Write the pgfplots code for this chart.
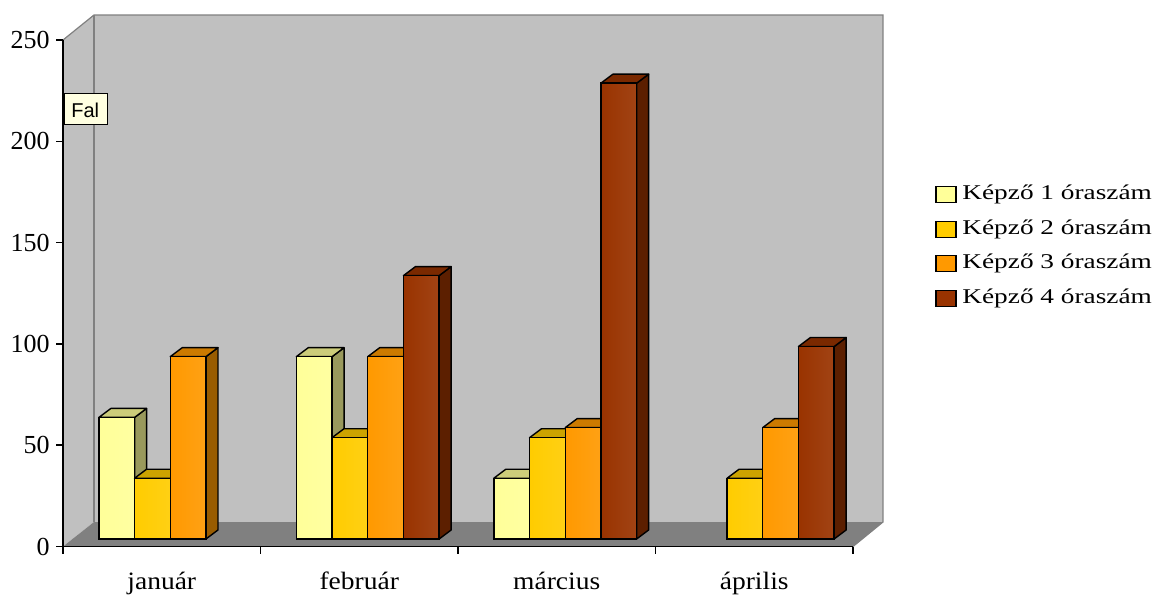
\documentclass[border=0pt]{standalone}
\usepackage{pgfplots}
\pgfplotsset{compat=1.18}
\usepackage{pgfplotstable}
\usepackage{fontspec}
\setmainfont{Liberation Serif}
\newfontfamily\tipfont{Liberation Sans}

% face colours: front / top / side
\definecolor{kA}{HTML}{FFFF99}\definecolor{kAtop}{HTML}{CCCC7A}\definecolor{kAside}{HTML}{99995C}
\definecolor{kB}{HTML}{FFCC00}\definecolor{kBtop}{HTML}{CCA300}\definecolor{kBside}{HTML}{997A00}
\definecolor{kC}{HTML}{FF9900}\definecolor{kCtop}{HTML}{CC7A00}\definecolor{kCside}{HTML}{995C00}
\definecolor{kD}{HTML}{993300}\definecolor{kDtop}{HTML}{7A2900}\definecolor{kDside}{HTML}{5C1F00}
\definecolor{wall}{HTML}{C0C0C0}
\definecolor{floor}{HTML}{808080}
\definecolor{tip}{HTML}{FFFFE1}

\pgfplotstableread{
x k1 k2 k3 k4
0 60 30 90 0
1 90 50 90 130
2 30 50 55 225
3 0 30 55 95
}\hours

\pgfdeclareplotmark{void}{}

% one 3-D column per data point (1 px = 0.5 pt, 1 unit = 1.013 pt)
% #1 column, #2 front, #3 top, #4 side, #5 x offset of the column centre (pt)
\pgfplotsset{
  box3d/.style n args={5}{
    only marks, mark=void, scatter,
    visualization depends on={\thisrow{#1} \as \bxV},
    scatter/@pre marker code/.code={%
      \pgfmathsetmacro\bxH{\bxV*1.013}%
      \ifdim\bxH pt>0.1pt
        \pgfmathsetmacro\bxL{#5-8.925}%
        \pgfmathsetmacro\bxR{#5+8.925}%
        \pgfmathsetmacro\bxRR{#5+14.925}%
        \pgfmathsetmacro\bxLL{#5-2.925}%
        \pgfmathsetmacro\bxB{3.75-\bxH}%
        \pgfmathsetmacro\bxBB{8.25-\bxH}%
        \filldraw[fill=#4, draw=black, line width=0.7pt, line join=round]
          (\bxR pt,\bxB pt) -- (\bxR pt,3.75pt) -- (\bxRR pt,8.25pt) -- (\bxRR pt,\bxBB pt) -- cycle;
        \filldraw[fill=#3, draw=black, line width=0.7pt, line join=round]
          (\bxL pt,3.75pt) -- (\bxLL pt,8.25pt) -- (\bxRR pt,8.25pt) -- (\bxR pt,3.75pt) -- cycle;
        \draw[left color=#2, right color=#2!92!white, draw=black, line width=0.7pt]
          (\bxL pt,\bxB pt) rectangle (\bxR pt,3.75pt);
      \fi
    },
    scatter/@post marker code/.code={},
    legend image code/.code={%
      \draw[black, fill=#2, line width=0.6pt] (0pt,-4pt) rectangle (10pt,4pt);
      \path (13pt,0pt);},
  },
}

\begin{document}
\begin{tikzpicture}
\useasboundingbox (0,0) rectangle (584pt,297.5pt);

% walls and floor of the chart box
\begin{scope}[x=0.5pt, y=-0.5pt, shift={(0pt,297.5pt)}]
  \fill[wall] (94,15) rectangle (883,522);
  \fill[wall] (63,40) -- (94,15) -- (94,522) -- (63,546.5) -- cycle;
  \fill[floor] (63,546.5) -- (853,546.5) -- (883,522) -- (94,522) -- cycle;
  \draw[floor, line width=0.6pt] (63,40) -- (94,15) -- (883,15) -- (883,522) -- (853,546.5);
  \draw[floor, line width=0.6pt] (94,15) -- (94,522);
\end{scope}

\begin{axis}[
  at={(31.5pt,24.25pt)}, anchor=south west,
  scale only axis, width=395pt, height=253.25pt,
  xmin=-0.5, xmax=3.5, ymin=0, ymax=250,
  axis lines=left,
  axis line style={-, black, line width=0.8pt},
  xtick={-0.5,0.5,1.5,2.5,3.5}, xticklabels={},
  extra x ticks={0,1,2,3},
  extra x tick labels={január,február,március,április},
  extra x tick style={major tick length=0pt,
    xticklabel style={font=\fontsize{12.5}{12.5}\selectfont, anchor=base, yshift=-21.25pt,
      xscale=1.1}},
  ytick={0,50,...,250},
  tick align=outside,
  major tick length=3.5pt,
  tick style={black, line width=0.8pt},
  /pgf/number format/assume math mode=true,
  yticklabel style={font=\fontsize{13}{13}\selectfont, anchor=east, inner sep=0pt, xshift=-3pt},
  clip=false,
  legend cell align=left,
  legend style={draw=none, fill=none, inner sep=0pt, row sep=7.35pt,
    at={(1.1038,0.5923)}, anchor=west,
    nodes={inner sep=0pt, text height=7.5pt, text depth=2.5pt,
      font=\fontsize{10.5}{10.5}\selectfont}},
]
\addplot[box3d={k1}{kA}{kAtop}{kAside}{-22.525}] table[x=x, y=k1] {\hours};
\addlegendentry{\scalebox{1.3}[1]{Képző 1 óraszám}}
\addplot[box3d={k2}{kB}{kBtop}{kBside}{-4.675}] table[x=x, y=k2] {\hours};
\addlegendentry{\scalebox{1.3}[1]{Képző 2 óraszám}}
\addplot[box3d={k3}{kC}{kCtop}{kCside}{13.175}] table[x=x, y=k3] {\hours};
\addlegendentry{\scalebox{1.3}[1]{Képző 3 óraszám}}
\addplot[box3d={k4}{kD}{kDtop}{kDside}{31.025}] table[x=x, y=k4] {\hours};
\addlegendentry{\scalebox{1.3}[1]{Képző 4 óraszám}}
\end{axis}

% tooltip naming the wall
\begin{scope}[x=0.5pt, y=-0.5pt, shift={(0pt,297.5pt)}]
  \draw[fill=tip, draw=black, line width=0.5pt] (64,94) rectangle (107,125);
  \node[anchor=west, inner sep=0pt, font=\tipfont\fontsize{10}{10}\selectfont] at (71,110) {Fal};
\end{scope}
\end{tikzpicture}
\end{document}
